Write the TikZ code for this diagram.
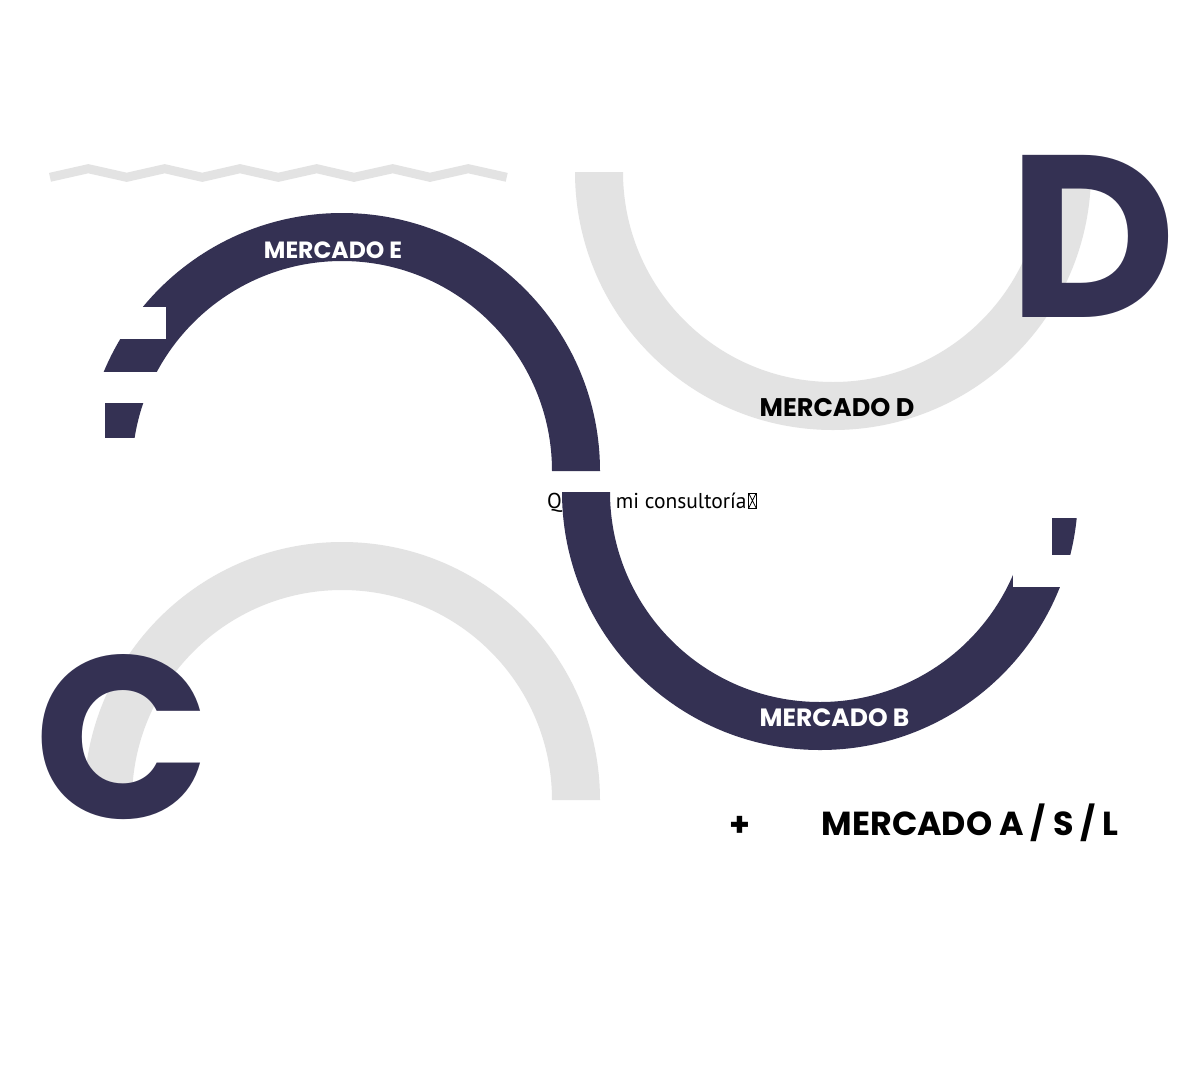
\documentclass[tikz,border=0pt]{standalone}
\usepackage{fontspec}
\newfontfamily\pop{Poppins}
\newfontfamily\ptsans{PT Sans}
\definecolor{navy}{HTML}{343153}
\definecolor{lgray}{HTML}{E3E3E3}
\begin{document}
\begin{tikzpicture}[x=1pt,y=-1pt,
  bigletter/.style={font=\pop\bfseries\fontsize{231}{236}\selectfont, text=navy, inner sep=0, anchor=base},
  mlabel/.style={font=\pop\bfseries\fontsize{23.5}{28}\selectfont, inner sep=0, anchor=base},
  mlabelbig/.style={mlabel, font=\pop\bfseries\fontsize{25.5}{30}\selectfont},
  biglabel/.style={font=\pop\bfseries\fontsize{33.3}{40}\selectfont, inner sep=0},
  mask/.style={fill=white}]
\useasboundingbox (0,0) rectangle (1200,1080);
\fill[white] (0,0) rectangle (1200,1080);

% gray arcs
\fill[lgray] (1091,172) arc[start angle=0,end angle=180,radius=258] -- (623,172) arc[start angle=180,end angle=0,radius=210] -- cycle;
\fill[lgray] (600,800) arc[start angle=0,end angle=-180,radius=258] -- (132,800) arc[start angle=-180,end angle=0,radius=210] -- cycle;

% zigzag
\draw[lgray, line width=9pt, line join=miter] (50,177.3) -- (88.3,168.7) -- (126.7,177.3) -- (164.7,168.7) -- (202.3,177.3) -- (240,168.7) -- (278.3,177.3) -- (316.7,168.7) -- (354,177.3) -- (392.7,168.7) -- (430,177.3) -- (468.3,168.7) -- (506.7,177.3);

% big letters
\node[bigletter] (letD) at (1092,317) {D};
\node[bigletter] (letC) at (122.5,818.5) {C};

\node[mlabelbig] (mD) at (837,416.7) {MERCADO D};

% dark arc E
\fill[navy] (600,471) arc[start angle=0,end angle=-180,radius=258] -- (132,471) arc[start angle=-180,end angle=0,radius=210] -- cycle;
\fill[mask] (60,307.3) rectangle (165.7,339);
\fill[mask] (60,372) rectangle (250,403);
\fill[mask] (60,438) rectangle (250,480);
\fill[mask] (60,403) rectangle (105,438);
\node[mlabel, text=white] (mE) at (333,258.3) {MERCADO E};

% center text
\node[anchor=base west, inner sep=0, font=\ptsans\fontsize{21.5}{26}\selectfont] (qtext) at (547,508.5) {Qué es mi consultoría};
\node[draw, anchor=south west, inner sep=0, minimum width=7.5pt, minimum height=15pt, line width=0.9pt,
  path picture={\draw[line width=0.8pt] (path picture bounding box.north west) -- (path picture bounding box.south east) (path picture bounding box.north east) -- (path picture bounding box.south west);}] (tofu) at ([xshift=1.5pt]qtext.base east) {};

% dark arc B
\fill[navy] (562,492) arc[start angle=180,end angle=0,radius=258] -- (1030,492) arc[start angle=0,end angle=180,radius=210] -- cycle;
\fill[mask] (985,488) rectangle (1100,518);
\fill[mask] (985,518) rectangle (1052,555);
\fill[mask] (1013,555) rectangle (1100,587);
\node[mlabel, font=\pop\bfseries\fontsize{25}{30}\selectfont, text=white] (mB) at (834.5,726) {MERCADO B};

% bottom right
\node[biglabel, anchor=base] (plus) at (739.7,836) {+};
\node[biglabel, anchor=base west] (mA) at (821.5,835) {MERCADO A / S / L};
\end{tikzpicture}
\end{document}
